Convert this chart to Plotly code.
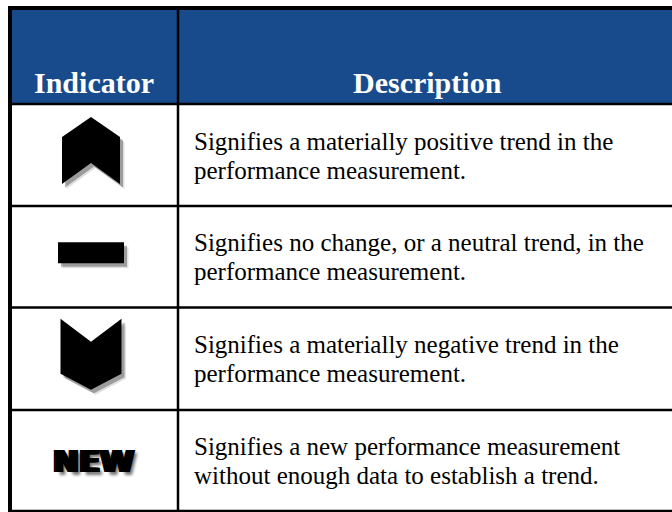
import plotly.graph_objects as go

# ---- data ----
headers = ["Indicator", "Description"]
indicators = ["up", "flat", "down", "NEW"]
descriptions = [
    ["Signifies a materially positive trend in the", "performance measurement."],
    ["Signifies no change, or a neutral trend, in the", "performance measurement."],
    ["Signifies a materially negative trend in the", "performance measurement."],
    ["Signifies a new performance measurement", "without enough data to establish a trend."],
]

# ---- layout constants ----
W, H = 672, 512
BLUE = "#174B8B"
LEFT, TOP = 10, 8
COL_DIV = 178
RIGHT = 676
HEADER_BOTTOM = 104
ROW_EDGES = [104, 206, 307.5, 410, 511]
ICON_CX = 91

shapes = []
annotations = []

# header background
shapes.append(dict(type="rect", x0=LEFT, x1=RIGHT, y0=TOP, y1=HEADER_BOTTOM,
                   fillcolor=BLUE, line=dict(width=0), layer="below"))
# body background
shapes.append(dict(type="rect", x0=LEFT, x1=RIGHT, y0=HEADER_BOTTOM, y1=ROW_EDGES[-1],
                   fillcolor="white", line=dict(width=0), layer="below"))

# horizontal row lines
for y in ROW_EDGES:
    shapes.append(dict(type="line", x0=LEFT, x1=RIGHT, y0=y, y1=y,
                       line=dict(color="black", width=2.5)))
# top border
shapes.append(dict(type="line", x0=LEFT - 2, x1=RIGHT, y0=TOP, y1=TOP,
                   line=dict(color="black", width=4)))
# left border
shapes.append(dict(type="line", x0=LEFT, x1=LEFT, y0=TOP - 2, y1=ROW_EDGES[-1] + 1,
                   line=dict(color="black", width=4)))
# column divider
shapes.append(dict(type="line", x0=COL_DIV, x1=COL_DIV, y0=TOP, y1=ROW_EDGES[-1] + 1,
                   line=dict(color="black", width=2.5)))

# headers
header_centers = [(LEFT + COL_DIV) / 2, (COL_DIV + RIGHT) / 2]
for h, cx in zip(headers, header_centers):
    annotations.append(dict(x=cx, y=82, text=h, showarrow=False,
                            xanchor="center", yanchor="middle",
                            font=dict(family="Liberation Serif", size=30,
                                      color="white", weight="bold")))


def path_from(points, dx=0, dy=0):
    s = "M " + " L ".join(f"{x + dx},{y + dy}" for x, y in points) + " Z"
    return s


def icon_points(kind, cx, cy):
    if kind == "up":
        rel = [(0, -38), (29, -18), (29, 29), (0, 8), (-29, 29), (-29, -18)]
    elif kind == "down":
        rel = [(-30.5, -40), (0, -17), (30.5, -40), (30.5, 15), (0, 31), (-30.5, 15)]
    else:  # flat
        rel = [(-33, -14.5), (33, -14.5), (33, 6.5), (-33, 6.5)]
    return [(cx + x, cy + y) for x, y in rel]


for i, (kind, desc) in enumerate(zip(indicators, descriptions)):
    y0, y1 = ROW_EDGES[i], ROW_EDGES[i + 1]
    cy = (y0 + y1) / 2
    if kind in ("up", "down", "flat"):
        pts = icon_points(kind, ICON_CX, cy)
        # soft drop shadow
        shapes.append(dict(type="path", path=path_from(pts, 4.5, 5),
                           fillcolor="rgba(0,0,0,0.12)", line=dict(width=0)))
        shapes.append(dict(type="path", path=path_from(pts, 3, 3.5),
                           fillcolor="rgba(0,0,0,0.30)", line=dict(width=0)))
        shapes.append(dict(type="path", path=path_from(pts),
                           fillcolor="black", line=dict(width=0)))
    else:
        annotations.append(dict(x=93, y=cy, text=kind, showarrow=False,
                                xanchor="center", yanchor="middle",
                                font=dict(family="DejaVu Sans", size=31, color="black",
                                          weight="bold",
                                          shadow="1px 0 0 black, -1px 0 0 black, "
                                                 "2px 0 0 black, -2px 0 0 black, "
                                                 "4px 3px 3px #777")))
    # description lines
    for j, line in enumerate(desc):
        annotations.append(dict(x=192, y=cy - 14 + 29 * j, text=line, showarrow=False,
                                xanchor="left", yanchor="middle",
                                font=dict(family="Liberation Serif", size=25,
                                          color="black")))

fig = go.Figure()
fig.update_layout(
    width=W, height=H,
    margin=dict(l=0, r=0, t=0, b=0),
    paper_bgcolor="white", plot_bgcolor="white",
    xaxis=dict(range=[0, W], visible=False, fixedrange=True),
    yaxis=dict(range=[H, 0], visible=False, fixedrange=True),
    shapes=shapes, annotations=annotations,
    showlegend=False,
)
fig.write_html(
    "out.html",
    config={"displayModeBar": False},
    post_script="document.body.style.margin='0';document.body.style.overflow='hidden';",
)
